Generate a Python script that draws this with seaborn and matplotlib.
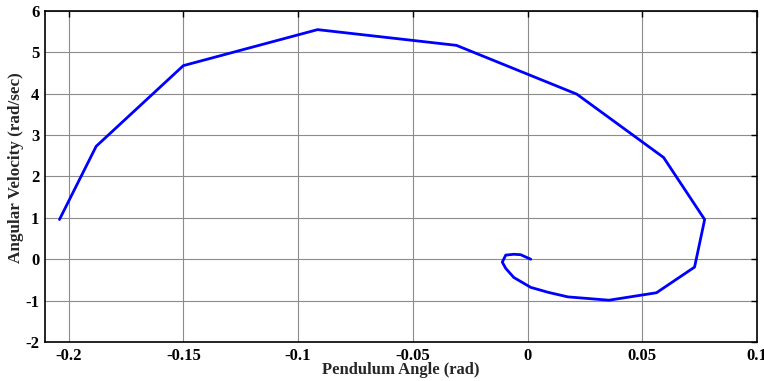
import numpy as np
import pandas as pd
import matplotlib
matplotlib.use('agg')
import matplotlib.pyplot as plt
import seaborn as sns

# phase trajectory
angle = [-0.204, -0.188, -0.150, -0.0915, -0.031, 0.0215, 0.0593, 0.0772, 0.0728,
         0.0562, 0.0355, 0.0176, 0.009, 0.0014, -0.006, -0.0095, -0.011, -0.0095,
         -0.006, -0.003, 0.0014]
velocity = [0.96, 2.73, 4.68, 5.55, 5.17, 3.99, 2.46, 0.96, -0.19,
            -0.81, -0.99, -0.91, -0.80, -0.68, -0.44, -0.22, -0.07, 0.10,
            0.12, 0.11, 0.0]
xticks = [-0.2, -0.15, -0.1, -0.05, 0, 0.05, 0.1]
xtick_labels = ['-0.2', '-0.15', '-0.1', '-0.05', '0', '0.05', '0.1']
yticks = [-2, -1, 0, 1, 2, 3, 4, 5, 6]

df = pd.DataFrame({'angle': angle, 'velocity': velocity})

sns.set_theme(style='white')
plt.rcParams['font.family'] = ['Liberation Serif', 'DejaVu Serif']
plt.rcParams['font.weight'] = 'bold'
plt.rcParams['axes.unicode_minus'] = False

fig = plt.figure(figsize=(7.64, 3.81), dpi=100)
ax = fig.add_axes([0.0589, 0.1024, 0.9319, 0.8687])

sns.lineplot(data=df, x='angle', y='velocity', sort=False, estimator=None,
             color='#0000ff', linewidth=2, ax=ax)

ax.set_xlim(-0.2103, 0.1)
ax.set_ylim(-2, 6)
ax.set_xticks(xticks)
ax.set_xticklabels(xtick_labels)
ax.set_yticks(yticks)
ax.grid(True, color='#8c8c8c', linewidth=0.8, linestyle='-')
ax.tick_params(direction='in', length=4, width=1, top=True, right=True,
               labelsize=12, colors='black', pad=4)
for lbl in ax.get_xticklabels() + ax.get_yticklabels():
    lbl.set_fontweight('bold')
for s in ax.spines.values():
    s.set_color('black')
    s.set_linewidth(1.2)

ax.set_xlabel('Pendulum Angle (rad)', fontsize=12, fontweight='bold', labelpad=-1)
ax.set_ylabel('Angular Velocity (rad/sec)', fontsize=12.3, fontweight='bold')
ax.yaxis.set_label_coords(-0.029, 0.526)

fig.savefig('out.png', dpi=100)
